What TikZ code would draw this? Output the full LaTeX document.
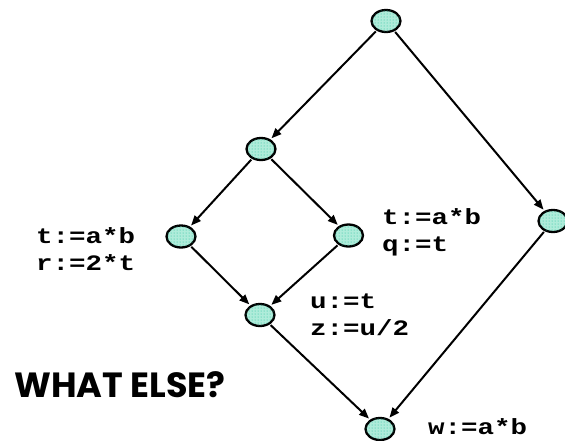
\documentclass[tikz,border=0pt]{standalone}
\usepackage{fontspec}
\newfontfamily\codefont{Liberation Mono}[FakeStretch=1.25]
\newfontfamily\headfont{Poppins}
\usetikzlibrary{arrows.meta,shapes.geometric,patterns}
\definecolor{blockfill}{RGB}{175,236,218}
\definecolor{blockdot}{RGB}{30,190,155}
\begin{document}
\begin{tikzpicture}[x=1pt,y=-1pt,
  block/.style={ellipse,draw=black,line width=2.3pt,minimum width=29pt,minimum height=22pt,
    inner sep=0pt,fill=blockfill,postaction={pattern=dots,pattern color=blockdot}},
  flow/.style={-{Triangle[length=10pt,width=8pt]},line width=2pt,shorten <=1pt,shorten >=1.5pt},
  code/.style={font=\codefont\bfseries\fontsize{22}{27}\selectfont,align=left,anchor=base west,inner sep=0pt}]
\useasboundingbox (0,0) rectangle (565,440);
% basic blocks
\node[block] (top)   at (386,21)    {};
\node[block] (split) at (261,149)   {};
\node[block] (lft)   at (181,236.5) {};
\node[block] (rgt)   at (348.5,235.5) {};
\node[block] (far)   at (553,221)   {};
\node[block] (join)  at (260,315)   {};
\node[block] (exit)  at (380,429)   {};
% control flow edges
\draw[flow] (top) -- (split);
\draw[flow] (top) -- (far);
\draw[flow] (split) -- (lft);
\draw[flow] (split) -- (rgt);
\draw[flow] (lft) -- (join);
\draw[flow] (rgt) -- (join);
\draw[flow] (join) -- (exit);
\draw[flow] (far) -- (exit);
% statements of each block (anchor is the baseline of the last line)
\node[code] (clft)  at (36,270)  {t:=a*b\\r:=2*t};
\node[code] (crgt)  at (382,251) {t:=a*b\\q:=t};
\node[code] (cjoin) at (310,335) {u:=t\\z:=u/2};
\node[code] (cexit) at (428,434) {w:=a*b};
\node[font=\headfont\bfseries\fontsize{35}{40}\selectfont,anchor=base west,inner sep=0pt] (q) at (14,397) {WHAT ELSE?};
\end{tikzpicture}
\end{document}
